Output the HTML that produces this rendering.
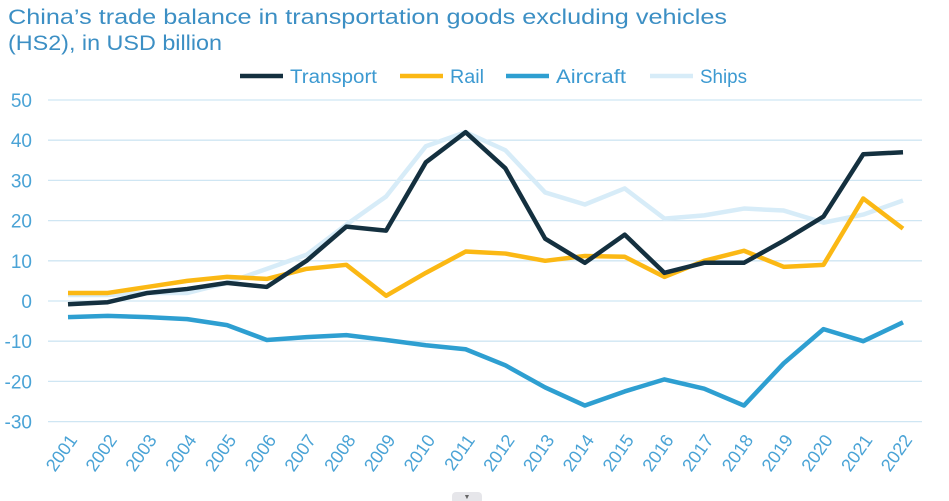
<!DOCTYPE html>
<html><head><meta charset="utf-8"><style>
body{margin:0;background:#fff;width:949px;height:501px;overflow:hidden;font-family:"Liberation Sans",sans-serif}
svg{position:absolute;left:0;top:0}
</style></head><body>
<svg width="949" height="501">
<text x="8" y="24" font-size="21" fill="#3c8fc4" textLength="719" lengthAdjust="spacingAndGlyphs">China’s trade balance in transportation goods excluding vehicles</text>
<text x="8" y="50" font-size="21" fill="#3c8fc4" textLength="214" lengthAdjust="spacingAndGlyphs">(HS2), in USD billion</text>
<g id="grid"></g><g id="lines"></g><g id="legend"></g>
<rect x="452" y="492" width="30" height="12" rx="4" fill="#e6e6ea"/>
<text x="467" y="499" font-size="7" fill="#666" text-anchor="middle">▼</text>
</svg>
<script>
const years=[2001,2002,2003,2004,2005,2006,2007,2008,2009,2010,2011,2012,2013,2014,2015,2016,2017,2018,2019,2020,2021,2022];
const transport=[-0.8,-0.3,2,3,4.5,3.5,10,18.5,17.5,34.5,42,33,15.5,9.5,16.5,7,9.5,9.5,15,21,36.5,37];
const rail=[2,2,3.5,5,6,5.5,8,9,1.3,7,12.3,11.8,10,11.2,11,6,10,12.5,8.5,9,25.5,18];
const aircraft=[-4,-3.7,-4,-4.5,-6,-9.7,-9,-8.5,-9.7,-11,-12,-16,-21.5,-26,-22.5,-19.5,-21.8,-26,-15.5,-7,-10,-5.3];
const ships=[1.5,1.5,2,2,4.5,8,11.5,19,26,38.5,42,37.5,27,24,28,20.5,21.3,23,22.5,19.5,21.5,25];
const yTicks=[50,40,30,20,10,0,-10,-20,-30];
const NS='http://www.w3.org/2000/svg';
const x=i=>68+i*(903-68)/(years.length-1);
const y=v=>301-v*4.02;
function el(t,a,p){const e=document.createElementNS(NS,t);for(const k in a)e.setAttribute(k,a[k]);p.appendChild(e);return e;}
const grid=document.getElementById('grid');
yTicks.forEach(v=>{
 const l=el('line',{x1:48,x2:922,y1:y(v),y2:y(v),stroke:'#cfe6f3','stroke-width':1.3},grid);
 
 
 const t=el('text',{x:32,y:y(v)+7,'font-size':19,fill:'#4aa3d6','text-anchor':'end'},grid);
 t.textContent=v;
 
 
});
years.forEach((yr,i)=>{
 const t=el('text',{transform:`translate(${x(i)+10},${440}) rotate(-55)`,'font-size':18,fill:'#4aa3d6','text-anchor':'end'},grid);
 t.textContent=yr;
 
 
});
const series=[['Ships',ships,'#d7ecf8'],['Aircraft',aircraft,'#2e9fd1'],['Rail',rail,'#fbb814'],['Transport',transport,'#14303f']];
const lines=document.getElementById('lines');
series.forEach(s=>{
 const p=el('polyline',{points:s[1].map((v,i)=>x(i)+','+y(v)).join(' '),fill:'none',stroke:s[2],'stroke-width':4.5,'stroke-linejoin':'round'},lines);
 
 
});
const leg=document.getElementById('legend');
[['Transport','#14303f',240,87],['Rail','#fbb814',400,34],['Aircraft','#2e9fd1',506,70],['Ships','#d7ecf8',650,47]].forEach(s=>{
 const g=el('g',{},leg);
 
 
 el('line',{x1:s[2],x2:s[2]+43,y1:76,y2:76,stroke:s[1],'stroke-width':4.5},g);
 const t=el('text',{x:s[2]+50,y:83,'font-size':19,fill:'#3d9ad1',textLength:s[3],lengthAdjust:'spacingAndGlyphs'},g);t.textContent=s[0];
});
</script>
</body></html>
